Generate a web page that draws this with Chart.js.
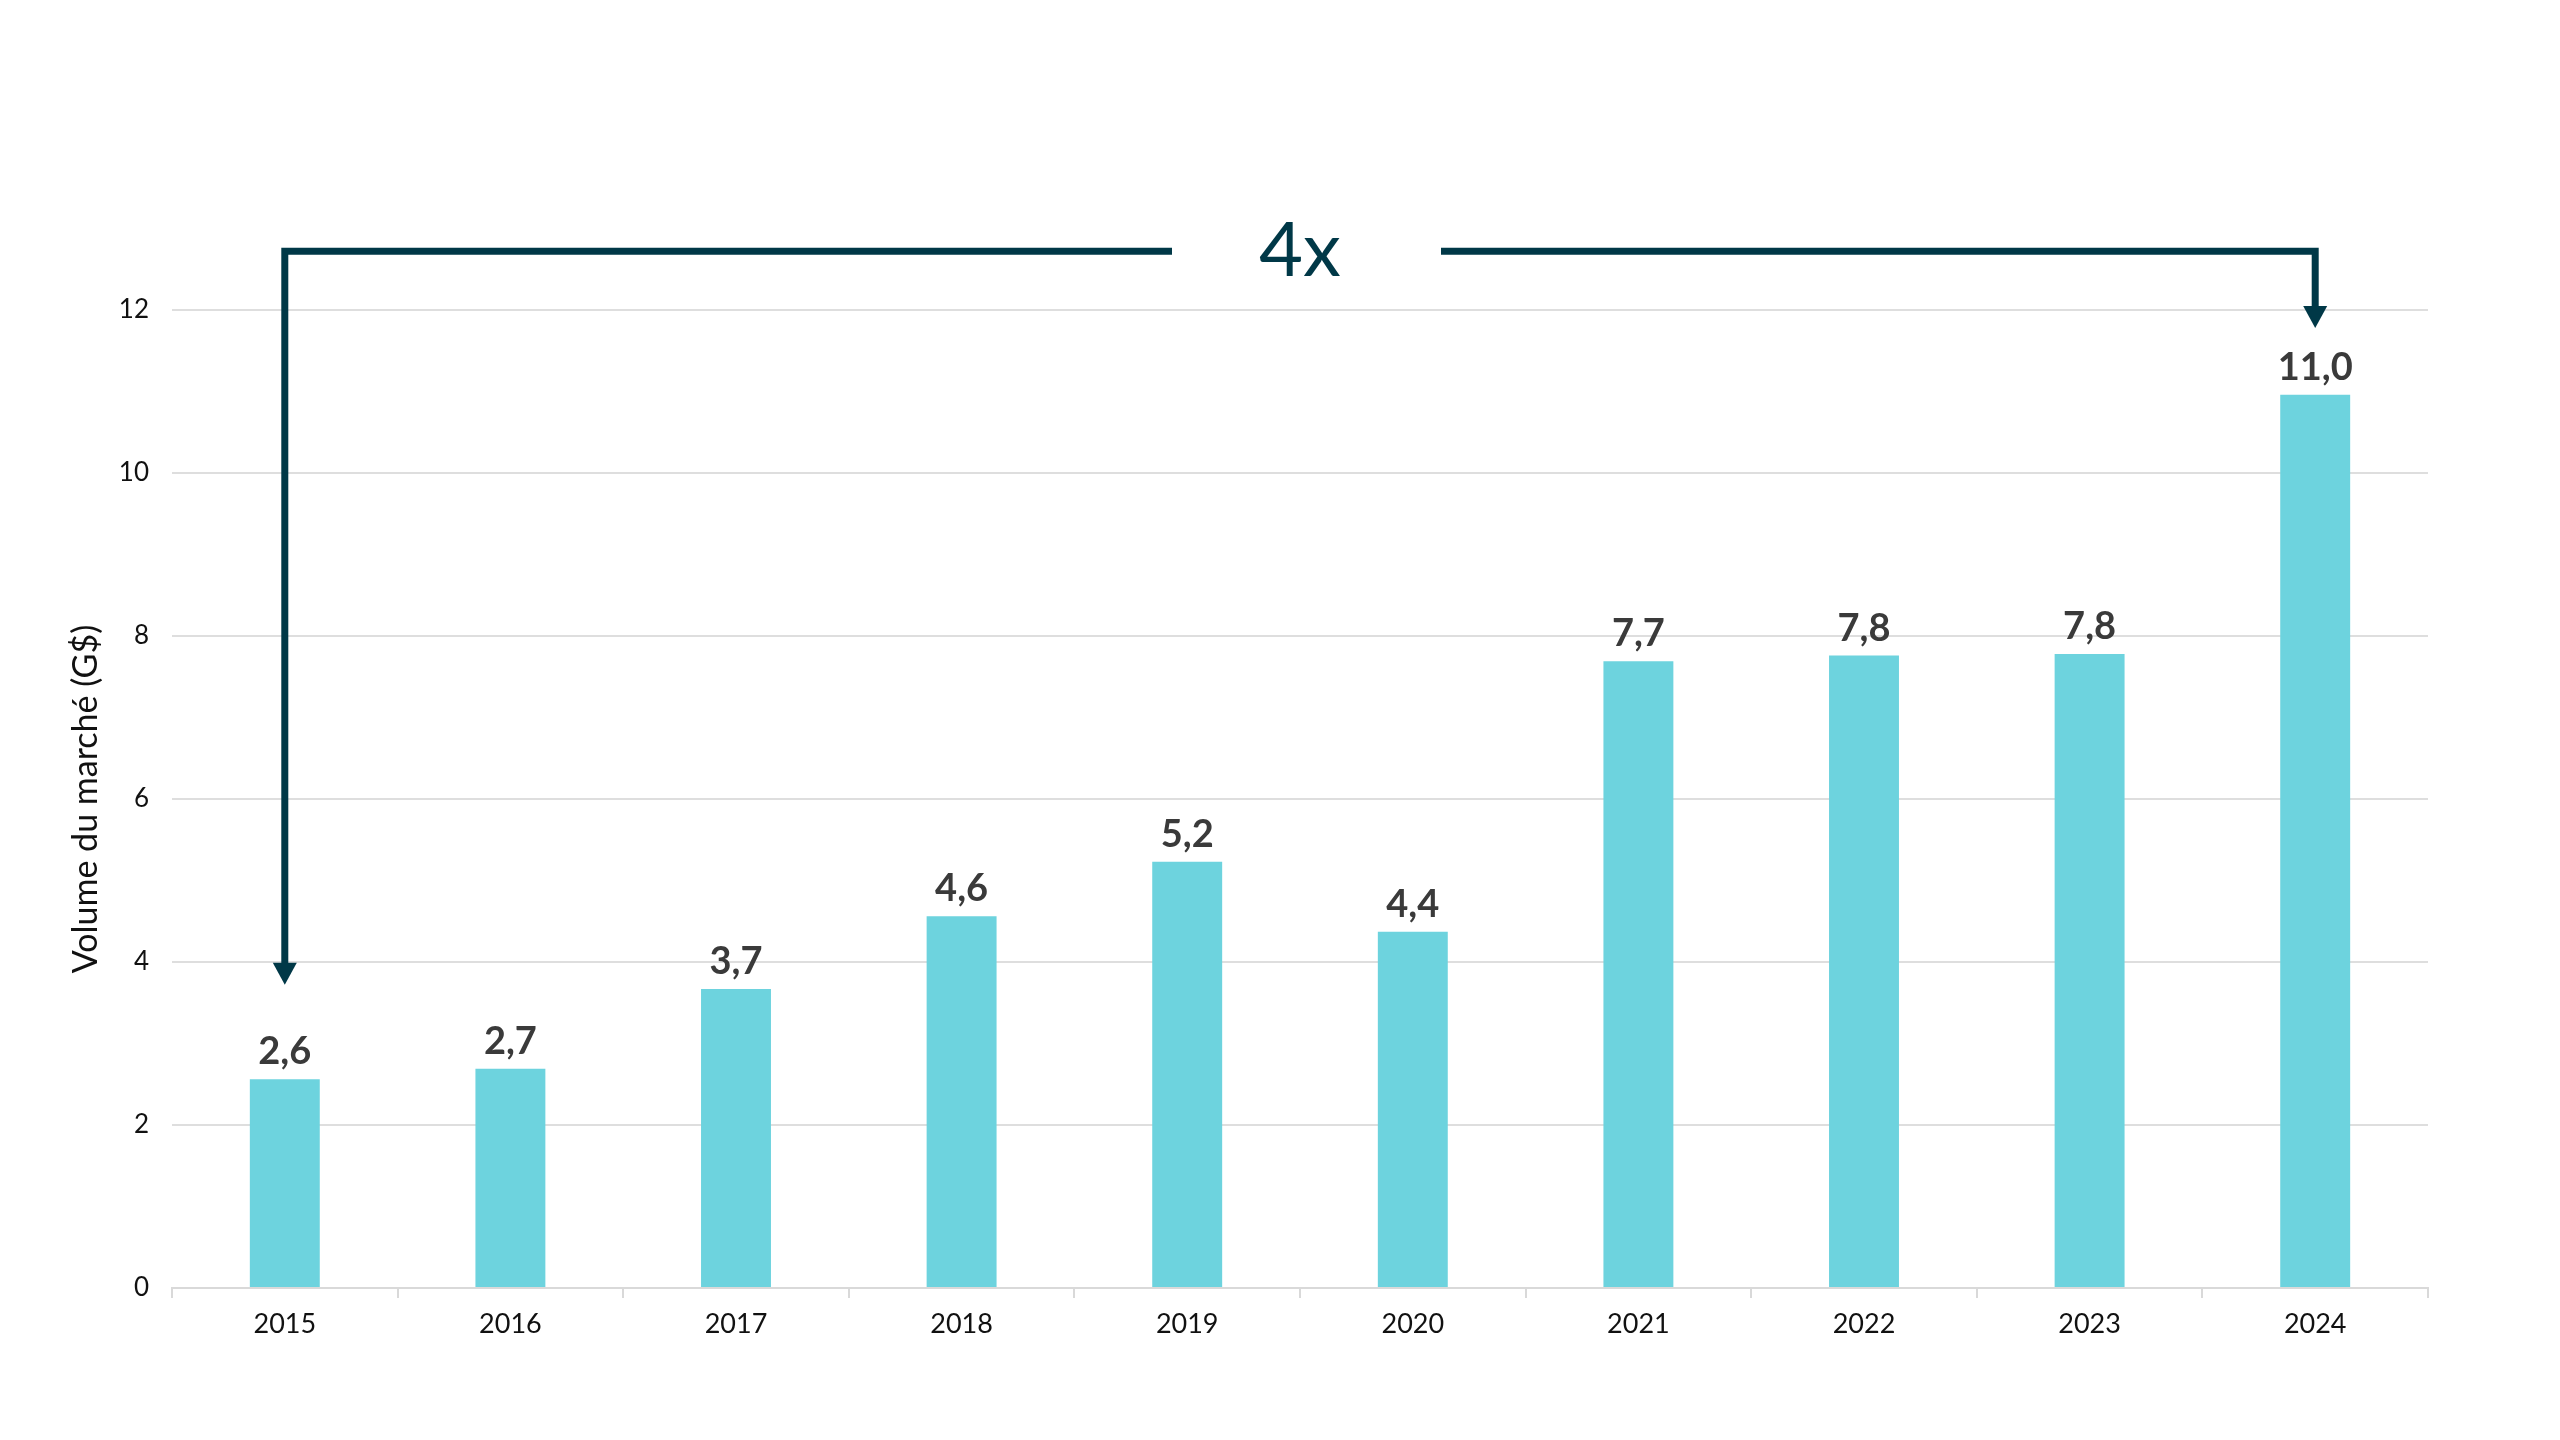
<!DOCTYPE html>
<html>
<head>
<meta charset="utf-8">
<script src="https://cdn.jsdelivr.net/npm/chart.js@4"></script>
<style>
  html,body{margin:0;padding:0;background:#fff;}
  #wrap{width:2560px;height:1440px;}
</style>
</head>
<body>
<div id="wrap"><canvas id="c" width="2560" height="1440"></canvas></div>
<script>
// ---- data ----
const years = ['2015','2016','2017','2018','2019','2020','2021','2022','2023','2024'];
const marketVolume = [2.56, 2.69, 3.67, 4.56, 5.23, 4.37, 7.69, 7.76, 7.78, 10.96];
const yTicks = [0, 2, 4, 6, 8, 10, 12];
const axisTitle = 'Volume du marché (G$)';
const growthLabel = '4x';
// bracket annotation, in data units (category index / value)
const bracketFrom = 0, bracketTo = 9;
const bracketTopValue = 12.72;
const leftArrowTipValue = 3.72;
const rightArrowTipValue = 11.78;

const fmt = v => v.toLocaleString('fr-FR', {minimumFractionDigits: 1, maximumFractionDigits: 1});

const ARROW = '#003847';

const valueLabels = {
  id: 'valueLabels',
  afterDatasetsDraw(chart) {
    const ctx = chart.ctx;
    const meta = chart.getDatasetMeta(0);
    ctx.save();
    ctx.fillStyle = '#3a3a3a';
    ctx.font = 'bold 38px Lato';
    ctx.textAlign = 'center';
    ctx.textBaseline = 'alphabetic';
    meta.data.forEach((bar, i) => {
      ctx.fillText(fmt(marketVolume[i]), bar.x, bar.y - 15);
    });
    ctx.restore();
  }
};

const bracket = {
  id: 'bracket',
  afterDraw(chart) {
    const ctx = chart.ctx;
    const x = chart.scales.x, y = chart.scales.y;
    const xl = x.getPixelForValue(bracketFrom);
    const xr = x.getPixelForValue(bracketTo);
    const yt = y.getPixelForValue(bracketTopValue);
    const yl = y.getPixelForValue(leftArrowTipValue);
    const yr = y.getPixelForValue(rightArrowTipValue);
    const xm = (x.getPixelForValue(4) + x.getPixelForValue(5)) / 2;
    const head = 22, halfW = 12;
    ctx.save();
    ctx.strokeStyle = ARROW;
    ctx.fillStyle = ARROW;
    ctx.lineWidth = 7;
    ctx.lineCap = 'butt';
    ctx.lineJoin = 'miter';
    // left part
    ctx.beginPath();
    ctx.moveTo(xm - 128, yt);
    ctx.lineTo(xl, yt);
    ctx.lineTo(xl, yl - head + 2);
    ctx.stroke();
    // right part
    ctx.beginPath();
    ctx.moveTo(xm + 141, yt);
    ctx.lineTo(xr, yt);
    ctx.lineTo(xr, yr - head + 2);
    ctx.stroke();
    // arrow heads
    [[xl, yl], [xr, yr]].forEach(([ax, ay]) => {
      ctx.beginPath();
      ctx.moveTo(ax - halfW, ay - head);
      ctx.lineTo(ax + halfW, ay - head);
      ctx.lineTo(ax, ay);
      ctx.closePath();
      ctx.fill();
    });
    // label
    ctx.font = '76px Lato';
    ctx.textAlign = 'center';
    ctx.textBaseline = 'middle';
    ctx.fillText(growthLabel, xm, yt);
    ctx.restore();
  }
};

new Chart(document.getElementById('c'), {
  type: 'bar',
  data: {
    labels: years,
    datasets: [{
      data: marketVolume,
      backgroundColor: '#6dd3de',
      borderWidth: 0,
      barPercentage: 0.31,
      categoryPercentage: 1.0
    }]
  },
  options: {
    responsive: false,
    animation: false,
    devicePixelRatio: 1,
    layout: { padding: { top: 310, right: 132, bottom: 0, left: 66 } },
    plugins: { legend: { display: false }, tooltip: { enabled: false } },
    scales: {
      x: {
        offset: true,
        grid: { drawOnChartArea: false, drawTicks: true, tickLength: 10, color: '#d9d9d9', lineWidth: 2, offset: true },
        border: { color: '#d9d9d9', width: 2 },
        ticks: { color: '#111', font: { family: 'Lato', size: 27 }, padding: 10 },
        afterFit(s) { s.height = 152; }
      },
      y: {
        min: 0, max: 12,
        afterBuildTicks(s) { s.ticks = yTicks.map(v => ({ value: v })); },
        grid: { color: '#dedede', lineWidth: 2, drawTicks: false },
        border: { display: false },
        ticks: { color: '#111', font: { family: 'Lato', size: 26 }, padding: 23 },
        title: { display: true, text: axisTitle, color: '#111', font: { family: 'Lato', size: 34 }, padding: { top: 0, bottom: 0 } },
        afterFit(s) { s.width = 106; }
      }
    }
  },
  plugins: [valueLabels, bracket]
});
</script>
</body>
</html>
